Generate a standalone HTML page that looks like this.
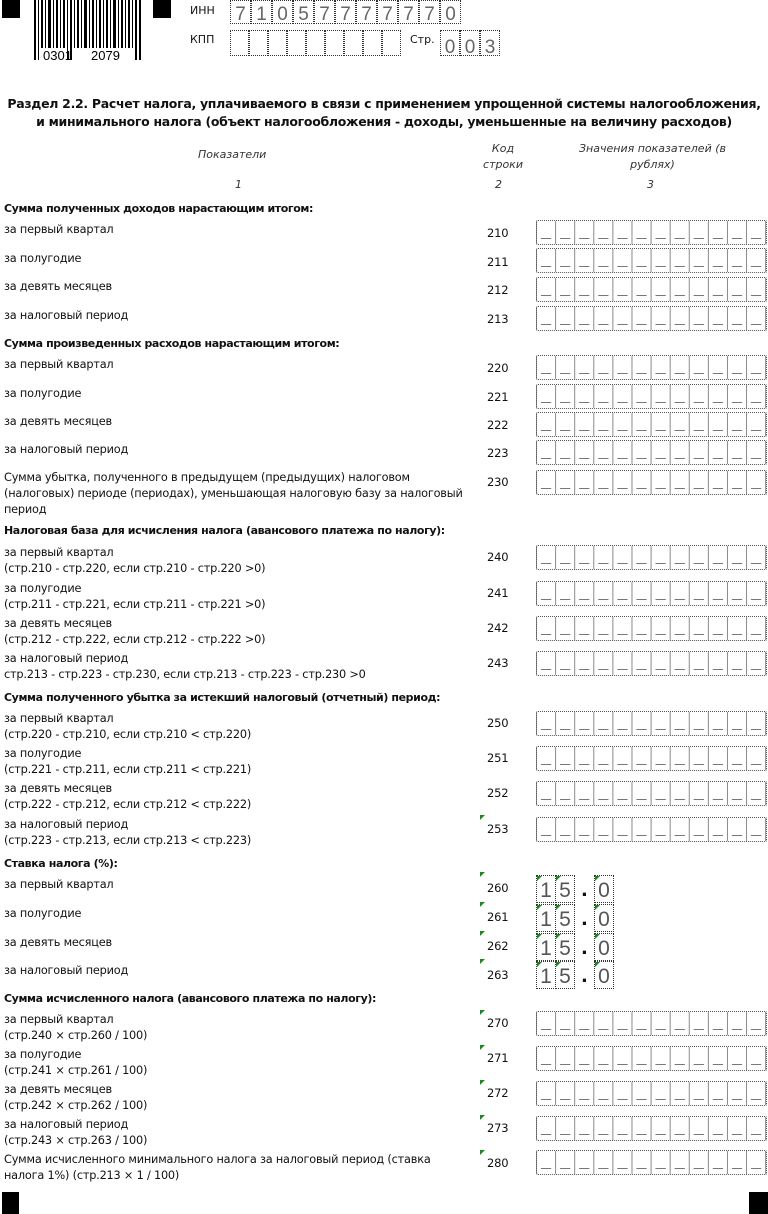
<!DOCTYPE html>
<html><head><meta charset="utf-8">
<style>
body{margin:0;width:768px;height:1214px;background:#fff;position:relative;overflow:hidden;font-family:"DejaVu Sans","Liberation Sans",sans-serif;color:#111}
.a{position:absolute;white-space:nowrap}
.sq{position:absolute;background:#000}
.t{position:absolute;left:4px;font-size:11.3px;line-height:16px;letter-spacing:-0.2px;white-space:nowrap}
.h{font-weight:bold;font-size:11px;letter-spacing:-0.4px}
.c{position:absolute;left:487px;font-size:11.5px;letter-spacing:-0.2px}
.f{position:absolute;left:536px;width:229px;height:23px;border:1px dotted #555;border-radius:2px;
background:
linear-gradient(to right,transparent 4px,#777 4px,#777 14px,transparent 14px) 0 17px/19.1px 1px repeat-x,
linear-gradient(to right,transparent 18px,#888 18px) 0 0/19.1px 100% repeat-x;}
.cell{position:absolute;border:1px dotted #333;font-size:21px;line-height:30px;text-align:center;color:#555;font-family:"Liberation Sans",sans-serif}
.g{position:absolute;width:0;height:0;border-top:5px solid #1a8a1a;border-right:5px solid transparent}
.box{position:absolute;border:1px dotted #333;font-size:19px;line-height:28px;text-align:center;color:#666;font-family:"Liberation Sans",sans-serif}
</style></head><body>
<div class="sq" style="left:2px;top:0;width:18px;height:18px"></div>
<div class="sq" style="left:153px;top:0;width:18px;height:18px"></div>
<svg class="a" style="left:33px;top:0" width="110" height="62">
<g fill="#000">
<rect x="1" y="0" width="2" height="60"/><rect x="5" y="0" width="1" height="60"/><rect x="8" y="0" width="2" height="48"/><rect x="12" y="0" width="1" height="48"/><rect x="15" y="0" width="3" height="48"/><rect x="20" y="0" width="1" height="48"/><rect x="23" y="0" width="2" height="48"/><rect x="27" y="0" width="1" height="48"/><rect x="30" y="0" width="2" height="48"/><rect x="34" y="0" width="1" height="60"/><rect x="37" y="0" width="2" height="60"/><rect x="41" y="0" width="1" height="48"/><rect x="44" y="0" width="2" height="48"/><rect x="48" y="0" width="1" height="48"/><rect x="51" y="0" width="3" height="48"/><rect x="56" y="0" width="1" height="48"/><rect x="59" y="0" width="2" height="48"/><rect x="63" y="0" width="1" height="48"/><rect x="66" y="0" width="2" height="48"/><rect x="70" y="0" width="1" height="48"/><rect x="73" y="0" width="2" height="48"/><rect x="77" y="0" width="1" height="48"/><rect x="80" y="0" width="3" height="48"/><rect x="85" y="0" width="1" height="48"/><rect x="88" y="0" width="2" height="48"/><rect x="92" y="0" width="1" height="48"/><rect x="95" y="0" width="2" height="48"/><rect x="99" y="0" width="1" height="48"/><rect x="102" y="0" width="2" height="60"/><rect x="106" y="0" width="2" height="60"/>
</g>
<text x="10" y="60" font-size="13" font-family="Liberation Sans" fill="#000">0301</text>
<text x="58" y="60" font-size="13" font-family="Liberation Sans" fill="#000">2079</text>
</svg>
<div class="a" style="left:190px;top:4px;font-size:11px">ИНН</div>
<div class="a" style="left:190px;top:33px;font-size:11px">КПП</div>
<div class="a" style="left:410px;top:33px;font-size:11px">Стр.</div>
<div class="box" style="left:230px;top:0;width:19px;height:22px">7</div><div class="box" style="left:251px;top:0;width:19px;height:22px">1</div><div class="box" style="left:272px;top:0;width:19px;height:22px">0</div><div class="box" style="left:293px;top:0;width:19px;height:22px">5</div><div class="box" style="left:314px;top:0;width:19px;height:22px">7</div><div class="box" style="left:335px;top:0;width:19px;height:22px">7</div><div class="box" style="left:356px;top:0;width:19px;height:22px">7</div><div class="box" style="left:377px;top:0;width:19px;height:22px">7</div><div class="box" style="left:398px;top:0;width:19px;height:22px">7</div><div class="box" style="left:419px;top:0;width:19px;height:22px">7</div><div class="box" style="left:440px;top:0;width:19px;height:22px">0</div>
<div class="box" style="left:230px;top:30px;width:17px;height:24px"></div><div class="box" style="left:249px;top:30px;width:17px;height:24px"></div><div class="box" style="left:268px;top:30px;width:17px;height:24px"></div><div class="box" style="left:287px;top:30px;width:17px;height:24px"></div><div class="box" style="left:306px;top:30px;width:17px;height:24px"></div><div class="box" style="left:325px;top:30px;width:17px;height:24px"></div><div class="box" style="left:344px;top:30px;width:17px;height:24px"></div><div class="box" style="left:363px;top:30px;width:17px;height:24px"></div><div class="box" style="left:382px;top:30px;width:17px;height:24px"></div>
<div class="box" style="left:440px;top:30px;width:18px;height:24px;line-height:34px">0</div><div class="box" style="left:460px;top:30px;width:18px;height:24px;line-height:34px">0</div><div class="box" style="left:480px;top:30px;width:18px;height:24px;line-height:34px">3</div>

<div class="a" style="left:0;width:768px;top:95px;text-align:center;font-size:12.5px;font-weight:bold;line-height:18px;letter-spacing:-0.3px">Раздел 2.2. Расчет налога, уплачиваемого в связи с применением упрощенной системы налогообложения,<br>и минимального налога (объект налогообложения - доходы, уменьшенные на величину расходов)</div>
<div class="a" style="left:198px;top:148px;font-size:11px;font-style:italic;color:#333">Показатели</div>
<div class="a" style="left:473px;top:141px;width:60px;text-align:center;font-size:11px;font-style:italic;line-height:16px;color:#333">Код<br>строки</div>
<div class="a" style="left:570px;top:141px;width:165px;text-align:center;font-size:11px;font-style:italic;line-height:16px;color:#333;white-space:normal">Значения показателей (в рублях)</div>
<div class="a" style="left:235px;top:178px;font-size:11px;font-style:italic;color:#333">1</div>
<div class="a" style="left:495px;top:178px;font-size:11px;font-style:italic;color:#333">2</div>
<div class="a" style="left:647px;top:178px;font-size:11px;font-style:italic;color:#333">3</div>

<div class="t h" style="top:201px">Сумма полученных доходов нарастающим итогом:</div>
<div class="t" style="top:222px">за первый квартал</div><div class="c" style="top:226px">210</div><div class="f" style="top:220px"></div>
<div class="t" style="top:251px">за полугодие</div><div class="c" style="top:255px">211</div><div class="f" style="top:248px"></div>
<div class="t" style="top:279px">за девять месяцев</div><div class="c" style="top:283px">212</div><div class="f" style="top:277px"></div>
<div class="t" style="top:308px">за налоговый период</div><div class="c" style="top:312px">213</div><div class="f" style="top:306px"></div>

<div class="t h" style="top:336px">Сумма произведенных расходов нарастающим итогом:</div>
<div class="t" style="top:357px">за первый квартал</div><div class="c" style="top:361px">220</div><div class="f" style="top:355px"></div>
<div class="t" style="top:386px">за полугодие</div><div class="c" style="top:390px">221</div><div class="f" style="top:384px"></div>
<div class="t" style="top:414px">за девять месяцев</div><div class="c" style="top:418px">222</div><div class="f" style="top:412px"></div>
<div class="t" style="top:442px">за налоговый период</div><div class="c" style="top:446px">223</div><div class="f" style="top:440px"></div>
<div class="t" style="top:470px">Сумма убытка, полученного в предыдущем (предыдущих) налоговом<br>(налоговых) периоде (периодах), уменьшающая налоговую базу за налоговый<br>период</div><div class="c" style="top:475px">230</div><div class="f" style="top:470px"></div>

<div class="t h" style="top:523px">Налоговая база для исчисления налога (авансового платежа по налогу):</div>
<div class="t" style="top:545px">за первый квартал<br>(стр.210 - стр.220, если стр.210 - стр.220 &gt;0)</div><div class="c" style="top:550px">240</div><div class="f" style="top:545px"></div>
<div class="t" style="top:581px">за полугодие<br>(стр.211 - стр.221, если стр.211 - стр.221 &gt;0)</div><div class="c" style="top:586px">241</div><div class="f" style="top:581px"></div>
<div class="t" style="top:616px">за девять месяцев<br>(стр.212 - стр.222, если стр.212 - стр.222 &gt;0)</div><div class="c" style="top:621px">242</div><div class="f" style="top:616px"></div>
<div class="t" style="top:651px">за налоговый период<br>стр.213 - стр.223 - стр.230, если стр.213 - стр.223 - стр.230 &gt;0</div><div class="c" style="top:656px">243</div><div class="f" style="top:651px"></div>

<div class="t h" style="top:690px">Сумма полученного убытка за истекший налоговый (отчетный) период:</div>
<div class="t" style="top:711px">за первый квартал<br>(стр.220 - стр.210, если стр.210 &lt; стр.220)</div><div class="c" style="top:716px">250</div><div class="f" style="top:711px"></div>
<div class="t" style="top:746px">за полугодие<br>(стр.221 - стр.211, если стр.211 &lt; стр.221)</div><div class="c" style="top:751px">251</div><div class="f" style="top:746px"></div>
<div class="t" style="top:781px">за девять месяцев<br>(стр.222 - стр.212, если стр.212 &lt; стр.222)</div><div class="c" style="top:786px">252</div><div class="f" style="top:781px"></div>
<div class="t" style="top:817px">за налоговый период<br>(стр.223 - стр.213, если стр.213 &lt; стр.223)</div><div class="g" style="left:480px;top:815px"></div><div class="c" style="top:822px">253</div><div class="f" style="top:817px"></div>

<div class="t h" style="top:856px">Ставка налога (%):</div>
<div class="t" style="top:877px">за первый квартал</div><div class="g" style="left:480px;top:872px"></div><div class="c" style="top:881px">260</div>
<div class="t" style="top:906px">за полугодие</div><div class="g" style="left:480px;top:902px"></div><div class="c" style="top:910px">261</div>
<div class="t" style="top:935px">за девять месяцев</div><div class="g" style="left:480px;top:931px"></div><div class="c" style="top:939px">262</div>
<div class="t" style="top:963px">за налоговый период</div><div class="g" style="left:480px;top:959px"></div><div class="c" style="top:968px">263</div>

<div class="cell" style="left:536px;top:875px;width:18px;height:26px">1</div><div class="cell" style="left:555px;top:875px;width:18px;height:26px">5</div><div class="a" style="left:581px;top:880px;font-size:18px;font-weight:bold">.</div><div class="cell" style="left:594px;top:875px;width:18px;height:26px">0</div>
<div class="cell" style="left:536px;top:904px;width:18px;height:26px">1</div><div class="cell" style="left:555px;top:904px;width:18px;height:26px">5</div><div class="a" style="left:581px;top:909px;font-size:18px;font-weight:bold">.</div><div class="cell" style="left:594px;top:904px;width:18px;height:26px">0</div>
<div class="cell" style="left:536px;top:933px;width:18px;height:26px">1</div><div class="cell" style="left:555px;top:933px;width:18px;height:26px">5</div><div class="a" style="left:581px;top:938px;font-size:18px;font-weight:bold">.</div><div class="cell" style="left:594px;top:933px;width:18px;height:26px">0</div>
<div class="cell" style="left:536px;top:961px;width:18px;height:26px">1</div><div class="cell" style="left:555px;top:961px;width:18px;height:26px">5</div><div class="a" style="left:581px;top:966px;font-size:18px;font-weight:bold">.</div><div class="cell" style="left:594px;top:961px;width:18px;height:26px">0</div>
<div class="g" style="left:537px;top:876px"></div><div class="g" style="left:556px;top:876px"></div><div class="g" style="left:595px;top:876px"></div>
<div class="g" style="left:537px;top:905px"></div><div class="g" style="left:556px;top:905px"></div><div class="g" style="left:595px;top:905px"></div>
<div class="g" style="left:537px;top:934px"></div><div class="g" style="left:556px;top:934px"></div><div class="g" style="left:595px;top:934px"></div>
<div class="g" style="left:537px;top:962px"></div><div class="g" style="left:556px;top:962px"></div><div class="g" style="left:595px;top:962px"></div>

<div class="t h" style="top:991px">Сумма исчисленного налога (авансового платежа по налогу):</div>
<div class="t" style="top:1012px">за первый квартал<br>(стр.240 × стр.260 / 100)</div><div class="g" style="left:480px;top:1010px"></div><div class="c" style="top:1016px">270</div><div class="f" style="top:1011px"></div>
<div class="t" style="top:1047px">за полугодие<br>(стр.241 × стр.261 / 100)</div><div class="g" style="left:480px;top:1045px"></div><div class="c" style="top:1051px">271</div><div class="f" style="top:1046px"></div>
<div class="t" style="top:1082px">за девять месяцев<br>(стр.242 × стр.262 / 100)</div><div class="g" style="left:480px;top:1080px"></div><div class="c" style="top:1086px">272</div><div class="f" style="top:1081px"></div>
<div class="t" style="top:1117px">за налоговый период<br>(стр.243 × стр.263 / 100)</div><div class="g" style="left:480px;top:1115px"></div><div class="c" style="top:1121px">273</div><div class="f" style="top:1116px"></div>
<div class="t" style="top:1152px">Сумма исчисленного минимального налога за налоговый период (ставка<br>налога 1%) (стр.213 × 1 / 100)</div><div class="g" style="left:480px;top:1150px"></div><div class="c" style="top:1156px">280</div><div class="f" style="top:1150px"></div>

<div class="sq" style="left:2px;top:1192px;width:17px;height:22px"></div>
<div class="sq" style="left:749px;top:1192px;width:19px;height:22px"></div>
</body></html>
